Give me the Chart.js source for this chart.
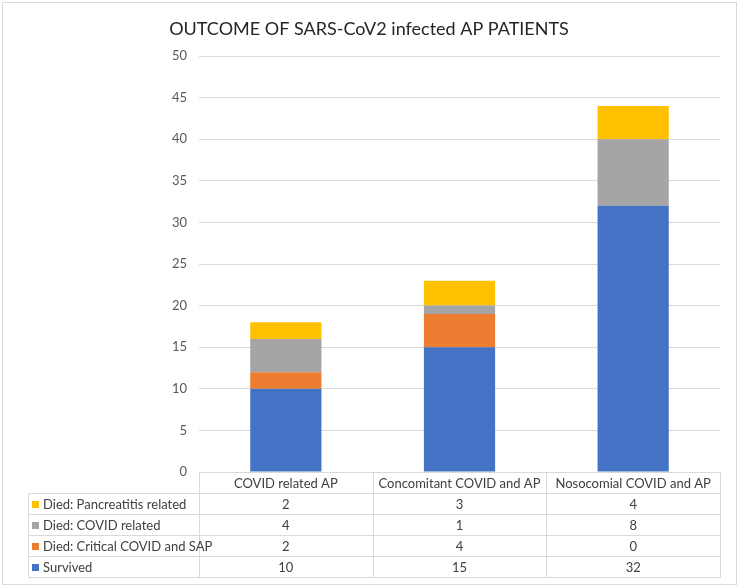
<!DOCTYPE html>
<html>
<head>
<meta charset="utf-8">
<script src="https://cdn.jsdelivr.net/npm/chart.js@4"></script>
<style>
    body { margin: 0; background: #fff; }
</style>
</head>
<body>
<canvas id="outcomeChart" width="740" height="588"></canvas>
<script>
const categories = ["COVID related AP", "Concomitant COVID and AP", "Nosocomial COVID and AP"];
const survived = [10, 15, 32];
const diedCritical = [2, 4, 0];
const diedCovid = [4, 1, 8];
const diedPancreatitis = [2, 3, 4];

const FONT = "Lato, 'Open Sans', sans-serif";

// draws the data table under the bars, with the legend keys in the first column
const dataTable = {
    id: 'dataTable',
    afterDraw(chart) {
        const ctx = chart.ctx;
        const a = chart.chartArea;
        const rowH = 21;
        const left = 28;
        const n = categories.length;
        const colW = (a.right - a.left) / n;
        const top = a.bottom;
        const px = v => Math.round(v) + 0.5;

        ctx.save();
        // outer chart border
        ctx.strokeStyle = '#d9d9d9';
        ctx.lineWidth = 1;
        ctx.strokeRect(2.5, 2.5, 734, 582);

        ctx.beginPath();
        ctx.moveTo(px(a.left), px(top));
        ctx.lineTo(px(a.right), px(top));
        for (let r = 1; r <= 5; r++) {
            ctx.moveTo(px(left), px(top + rowH * r));
            ctx.lineTo(px(a.right), px(top + rowH * r));
        }
        ctx.moveTo(px(left), px(top + rowH));
        ctx.lineTo(px(left), px(top + rowH * 5));
        for (let i = 0; i <= n; i++) {
            ctx.moveTo(px(a.left + colW * i), px(top));
            ctx.lineTo(px(a.left + colW * i), px(top + rowH * 5));
        }
        ctx.stroke();

        ctx.font = "13px " + FONT;
        ctx.fillStyle = '#404040';
        ctx.textBaseline = 'middle';
        ctx.textAlign = 'center';
        categories.forEach((c, i) => {
            ctx.fillText(c, a.left + colW * (i + 0.5), top + rowH / 2 + 1);
        });

        const sets = chart.data.datasets.slice().reverse();
        sets.forEach((ds, r) => {
            const cy = top + rowH * (r + 1) + rowH / 2 + 1;
            ctx.fillStyle = ds.backgroundColor;
            ctx.fillRect(32, Math.round(cy - 4), 7, 7);
            ctx.fillStyle = '#404040';
            ctx.textAlign = 'left';
            ctx.fillText(ds.label, 43, cy);
            ctx.textAlign = 'center';
            ds.data.forEach((v, i) => {
                ctx.fillText(String(v), a.left + colW * (i + 0.5), cy);
            });
        });
        ctx.restore();
    }
};

new Chart("outcomeChart", {
    type: "bar",
    data: {
        labels: categories,
        datasets: [{
            label: "Survived",
            backgroundColor: "#4472C4",
            data: survived
        }, {
            label: "Died: Critical COVID and SAP",
            backgroundColor: "#ED7D31",
            data: diedCritical
        }, {
            label: "Died: COVID related",
            backgroundColor: "#A5A5A5",
            data: diedCovid
        }, {
            label: "Died: Pancreatitis related",
            backgroundColor: "#FFC000",
            data: diedPancreatitis
        }]
    },
    options: {
        responsive: false,
        animation: false,
        layout: {
            padding: { left: 18, right: 20, top: 0, bottom: 116 }
        },
        datasets: {
            bar: { categoryPercentage: 1, barPercentage: 0.41 }
        },
        scales: {
            x: {
                stacked: true,
                display: false
            },
            y: {
                stacked: true,
                min: 0,
                max: 50,
                ticks: {
                    stepSize: 5,
                    padding: 12,
                    color: '#595959',
                    font: { family: FONT, size: 13 }
                },
                grid: { color: '#d9d9d9', drawTicks: false },
                border: { display: false },
                afterFit: (scale) => { scale.width = 181; }
            }
        },
        plugins: {
            legend: { display: false },
            tooltip: { enabled: false },
            title: {
                display: true,
                text: "OUTCOME OF SARS-CoV2 infected AP PATIENTS",
                color: '#262626',
                font: { family: FONT, size: 18, weight: 'normal', lineHeight: 1.2 },
                padding: { top: 18, bottom: 16.4 }
            }
        }
    },
    plugins: [dataTable]
});
</script>
</body>
</html>
